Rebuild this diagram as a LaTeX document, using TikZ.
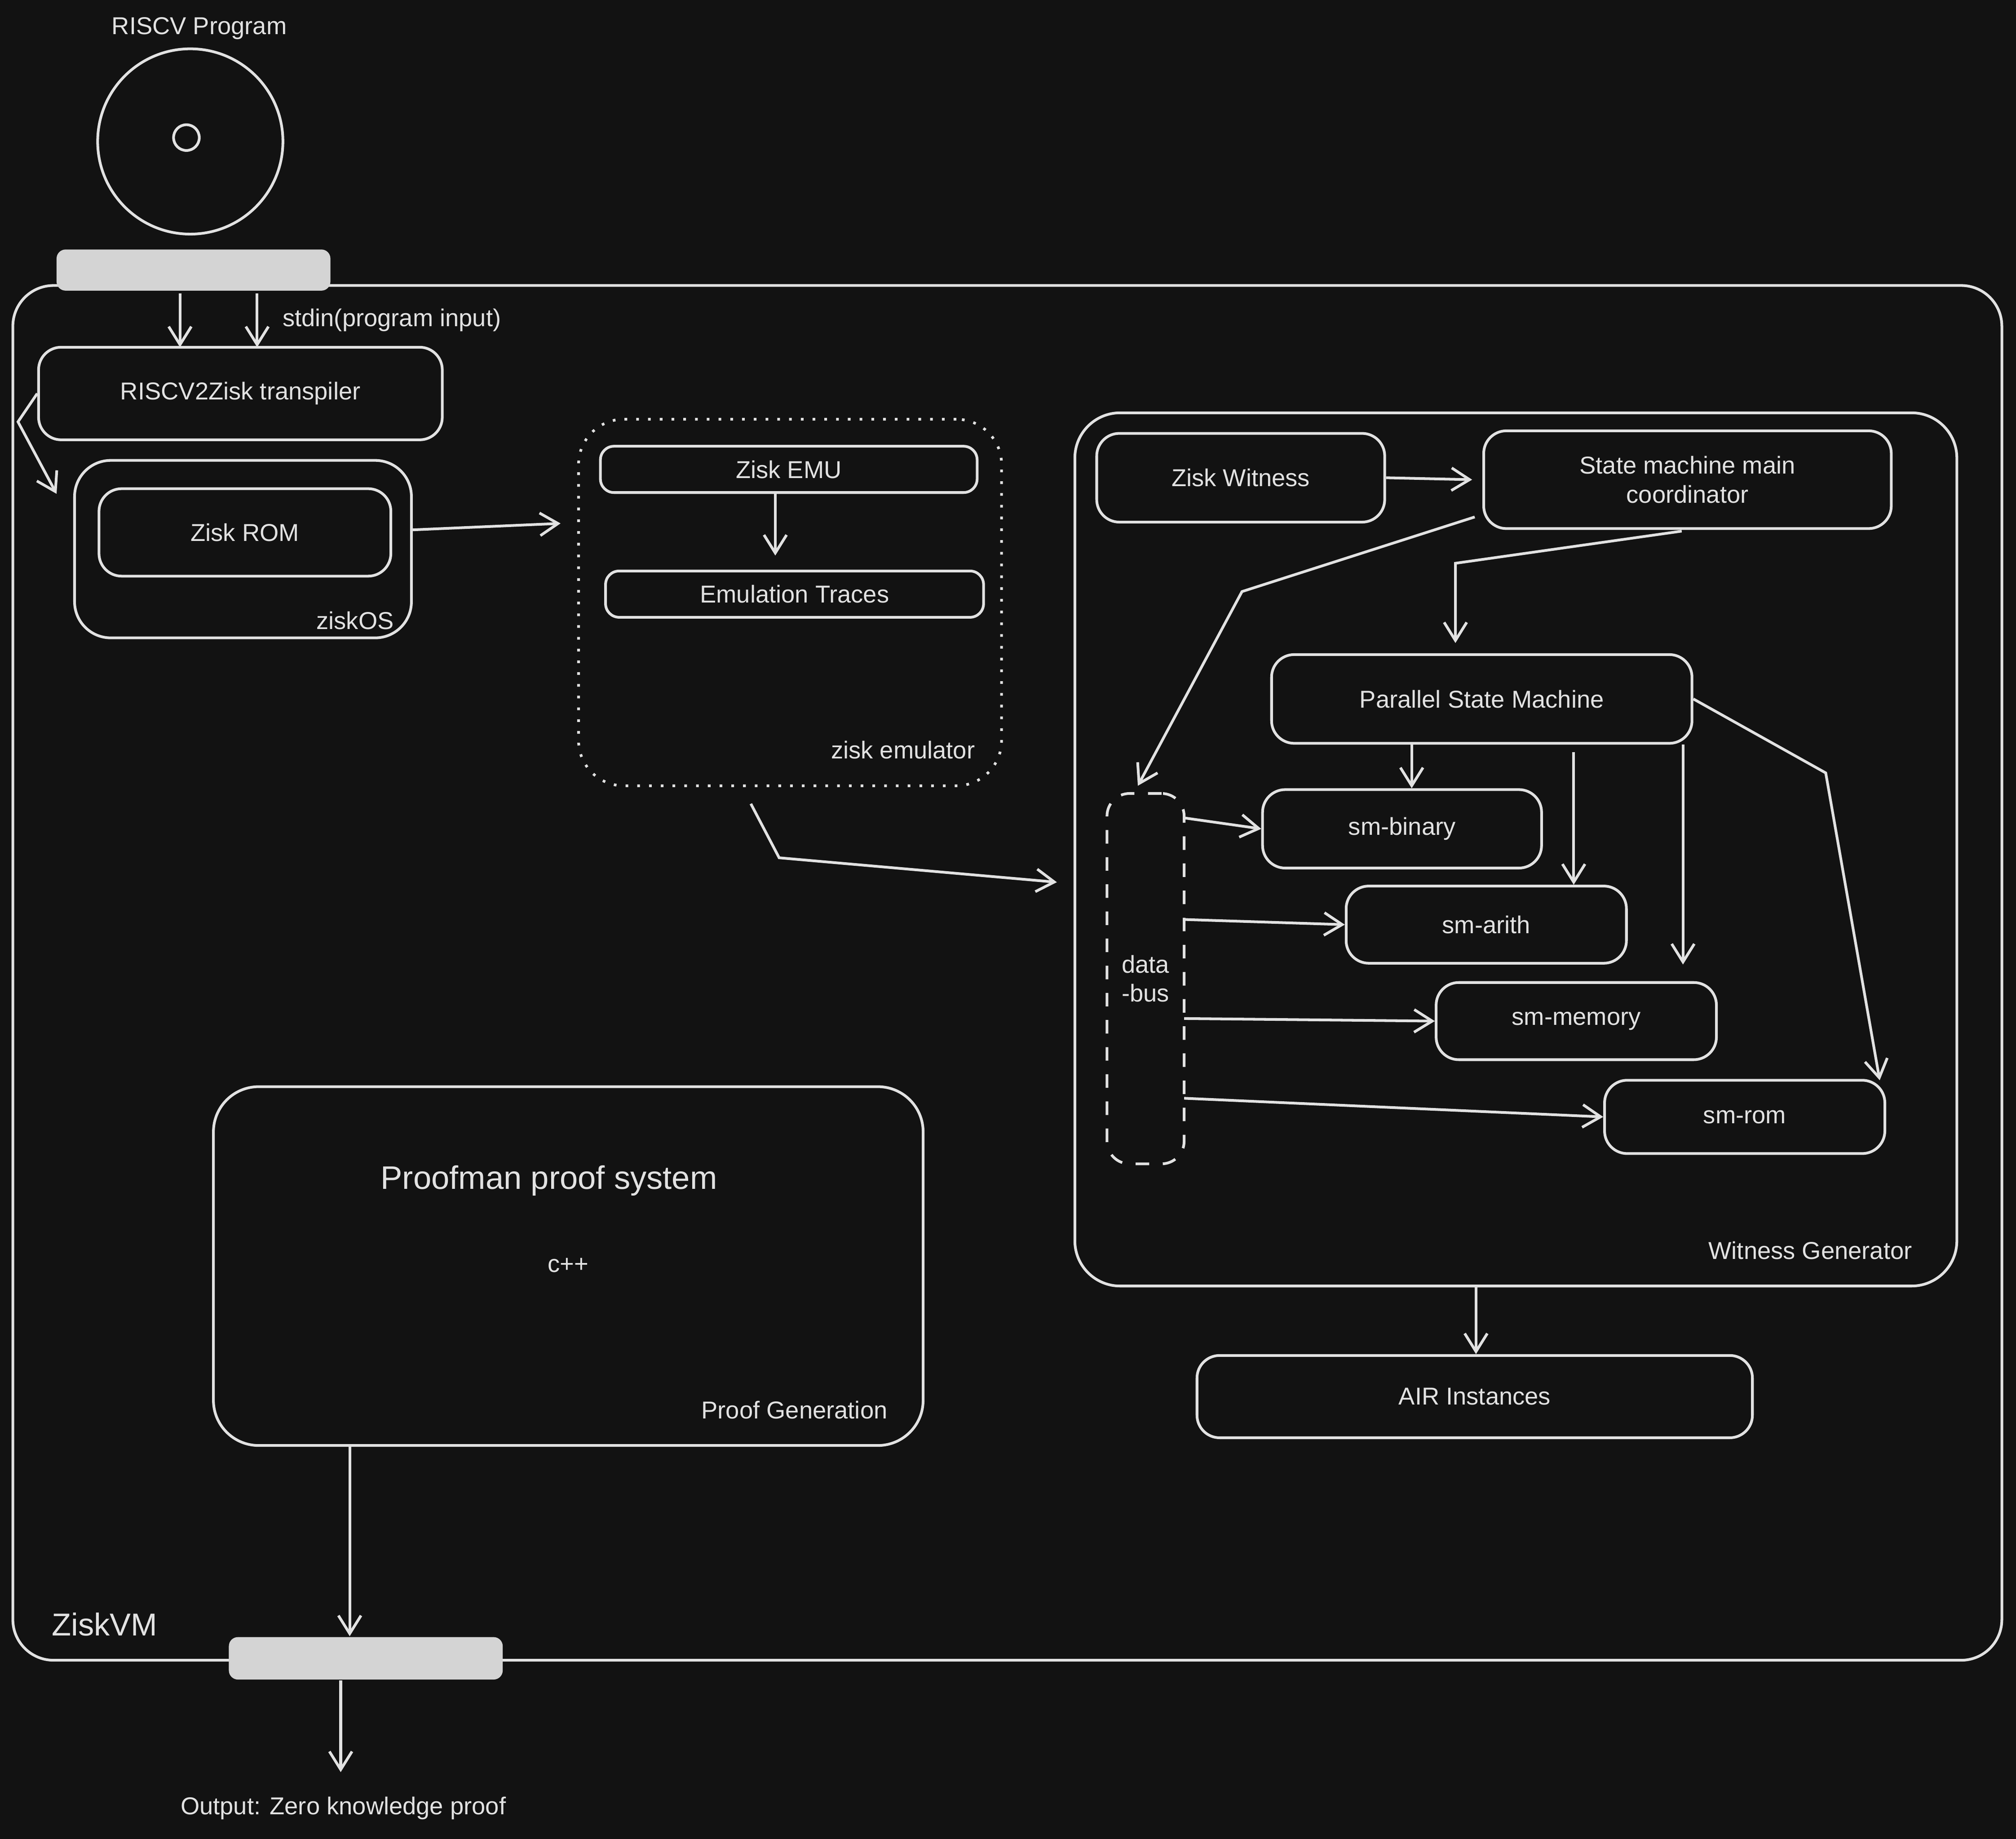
\documentclass[tikz,border=0pt]{standalone}
\usepackage{fontspec}
\setmainfont{Liberation Sans}
\usetikzlibrary{fit,arrows.meta,calc}
\definecolor{bgc}{HTML}{121212}
\definecolor{ink}{HTML}{E2E2E2}
\definecolor{barc}{HTML}{D4D4D4}

\begin{document}
\begin{tikzpicture}[x=0.01cm,y=-0.01cm,>={Straight Barb[length=4pt,width=5pt]},
	every node/.style={text=ink,font=\fontsize{5.4}{6.4}\selectfont},
	box/.style={draw=ink,line width=0.6pt,rounded corners=5pt,inner sep=0pt},
	bar/.style={fill=barc,rounded corners=2pt,inner sep=0pt},
	link/.style={->,draw=ink,line width=0.6pt},
	caption/.style={anchor=south east,inner sep=2pt}]
	\fill[bgc] (0,0) rectangle (1568,1430);
	\useasboundingbox (0,0) rectangle (1568,1430);
	
	% outer frame and bars
	\node[box,rounded corners=9pt,fit={(10,222) (1557,1291)}] (zvm) {};
	\node[anchor=west,font=\fontsize{7}{8}\selectfont] (zvmlabel) at (28,1263) {ZiskVM};
	\node at (155,22) (title) {RISCV Program};
	\node[draw=ink,line width=0.6pt,circle,minimum size=1.44cm,inner sep=0pt] at (148,110) (disk) {};
	\node[draw=ink,line width=0.6pt,circle,minimum size=0.2cm,inner sep=0pt] at (145,107) (hole) {};
	\node[bar,fit={(44,194) (257,226)}] (topbar) {};
	\node[bar,fit={(178,1273) (391,1306)}] (botbar) {};
	
	% transpiler and ROM
	\node[box,fit={(30,270) (344,342)},label=center:{RISCV2Zisk transpiler}] (trans) {};
	\node[box,rounded corners=8pt,fit={(58,358) (320,496)}] (zos) {};
	\node[caption,xshift=-2pt] at (zos.south east) {ziskOS};
	\node[box,fit={(77,380) (304,448)},label=center:{Zisk ROM}] (zrom) {};
	\coordinate (tin1) at (140,270);
	\coordinate (tin2) at (200,270);
	\draw[link] (140,228) -- (tin1);
	\draw[link] (200,228) -- (tin2) node[midway,right,xshift=2pt] {stdin(program input)};
	\coordinate (bend1) at (14,328);
	\coordinate (rin) at (44,384);
	\draw[link] (trans.west) -- (bend1) -- (rin);
	
	% emulator
	\node[box,dotted,rounded corners=10pt,fit={(450,326) (779,611)}] (emu) {};
	\node[caption,xshift=-4pt,yshift=4pt] at (emu.south east) {zisk emulator};
	\node[box,rounded corners=3pt,fit={(467,347) (760,383)},label=center:{Zisk EMU}] (zemu) {};
	\node[box,rounded corners=3pt,fit={(471,444) (765,480)},label=center:{Emulation Traces}] (traces) {};
	\coordinate (emuin) at (436,407);
	\draw[link] (zos.east |- 0,412) -- (emuin);
	\draw[link] (zemu.south -| 603,0) -- (603,432);
	\coordinate (eo1) at (584,625);
	\coordinate (eo2) at (606,667);
	\coordinate (wgin) at (822,686);
	\draw[link] (eo1) -- (eo2) -- (wgin);
	
	% witness generator
	\node[box,rounded corners=10pt,fit={(836,321) (1522,1000)}] (wg) {};
	\node[caption,xshift=-8pt,yshift=4pt] at (wg.south east) {Witness Generator};
	\node[box,fit={(853,337) (1077,406)},label=center:{Zisk Witness}] (zwit) {};
	\node[box,fit={(1154,335) (1471,411)},label={[align=center]center:State machine main\\coordinator}] (smc) {};
	\node[box,fit={(989,509) (1316,578)},label=center:{Parallel State Machine}] (psm) {};
	\node[box,dashed,fit={(861,617) (921,905)},label={[align=center]center:data\\-bus}] (bus) {};
	\node[box,fit={(982,614) (1199,675)},label=center:{sm-binary}] (smbin) {};
	\node[box,fit={(1047,689) (1265,749)},label=center:{sm-arith}] (smari) {};
	\node[box,fit={(1117,764) (1335,824)},label=center:{sm-memory}] (smmem) {};
	\node[box,fit={(1248,840) (1466,897)},label=center:{sm-rom}] (smrom) {};
	\draw[link] (zwit.east) -- (1145,373);
	\draw[link] (1147,402) -- (966,460) -- (885,611);
	\draw[link] (1308,413) -- (1132,438) -- (1132,500);
	\draw[link] (1098,579) -- (smbin.north -| 1098,0);
	\draw[link] (1224,585) -- (smari.north -| 1224,0);
	\draw[link] (1309,579) -- (1309,750);
	\draw[link] (psm.east) -- (1420,601) -- (1462,840);
	\draw[link] (921,636) -- (smbin.west);
	\draw[link] (921,715) -- (smari.west);
	\draw[link] (921,792) -- (smmem.west);
	\draw[link] (921,854) -- (smrom.west);
	
	% outputs
	\node[box,fit={(931,1054) (1363,1118)},label=center:{AIR Instances}] (air) {};
	\draw[link] (wg.south -| 1148,0) -- (air.north -| 1148,0);
	\node[box,rounded corners=10pt,fit={(166,845) (718,1124)}] (proof) {};
	\node[font=\fontsize{7.2}{8}\selectfont] at (427,918) (pname) {Proofman proof system};
	\node at (442,984) (cpp) {c++};
	\node[caption,xshift=-6pt,yshift=4pt] at (proof.south east) {Proof Generation};
	\draw[link] (proof.south -| 272,0) -- (botbar.north -| 272,0);
	\node at (267,1406) (out) {Output: Zero knowledge proof};
	\draw[link] (botbar.south -| 265,0) -- (265,1378);
\end{tikzpicture}
\end{document}
